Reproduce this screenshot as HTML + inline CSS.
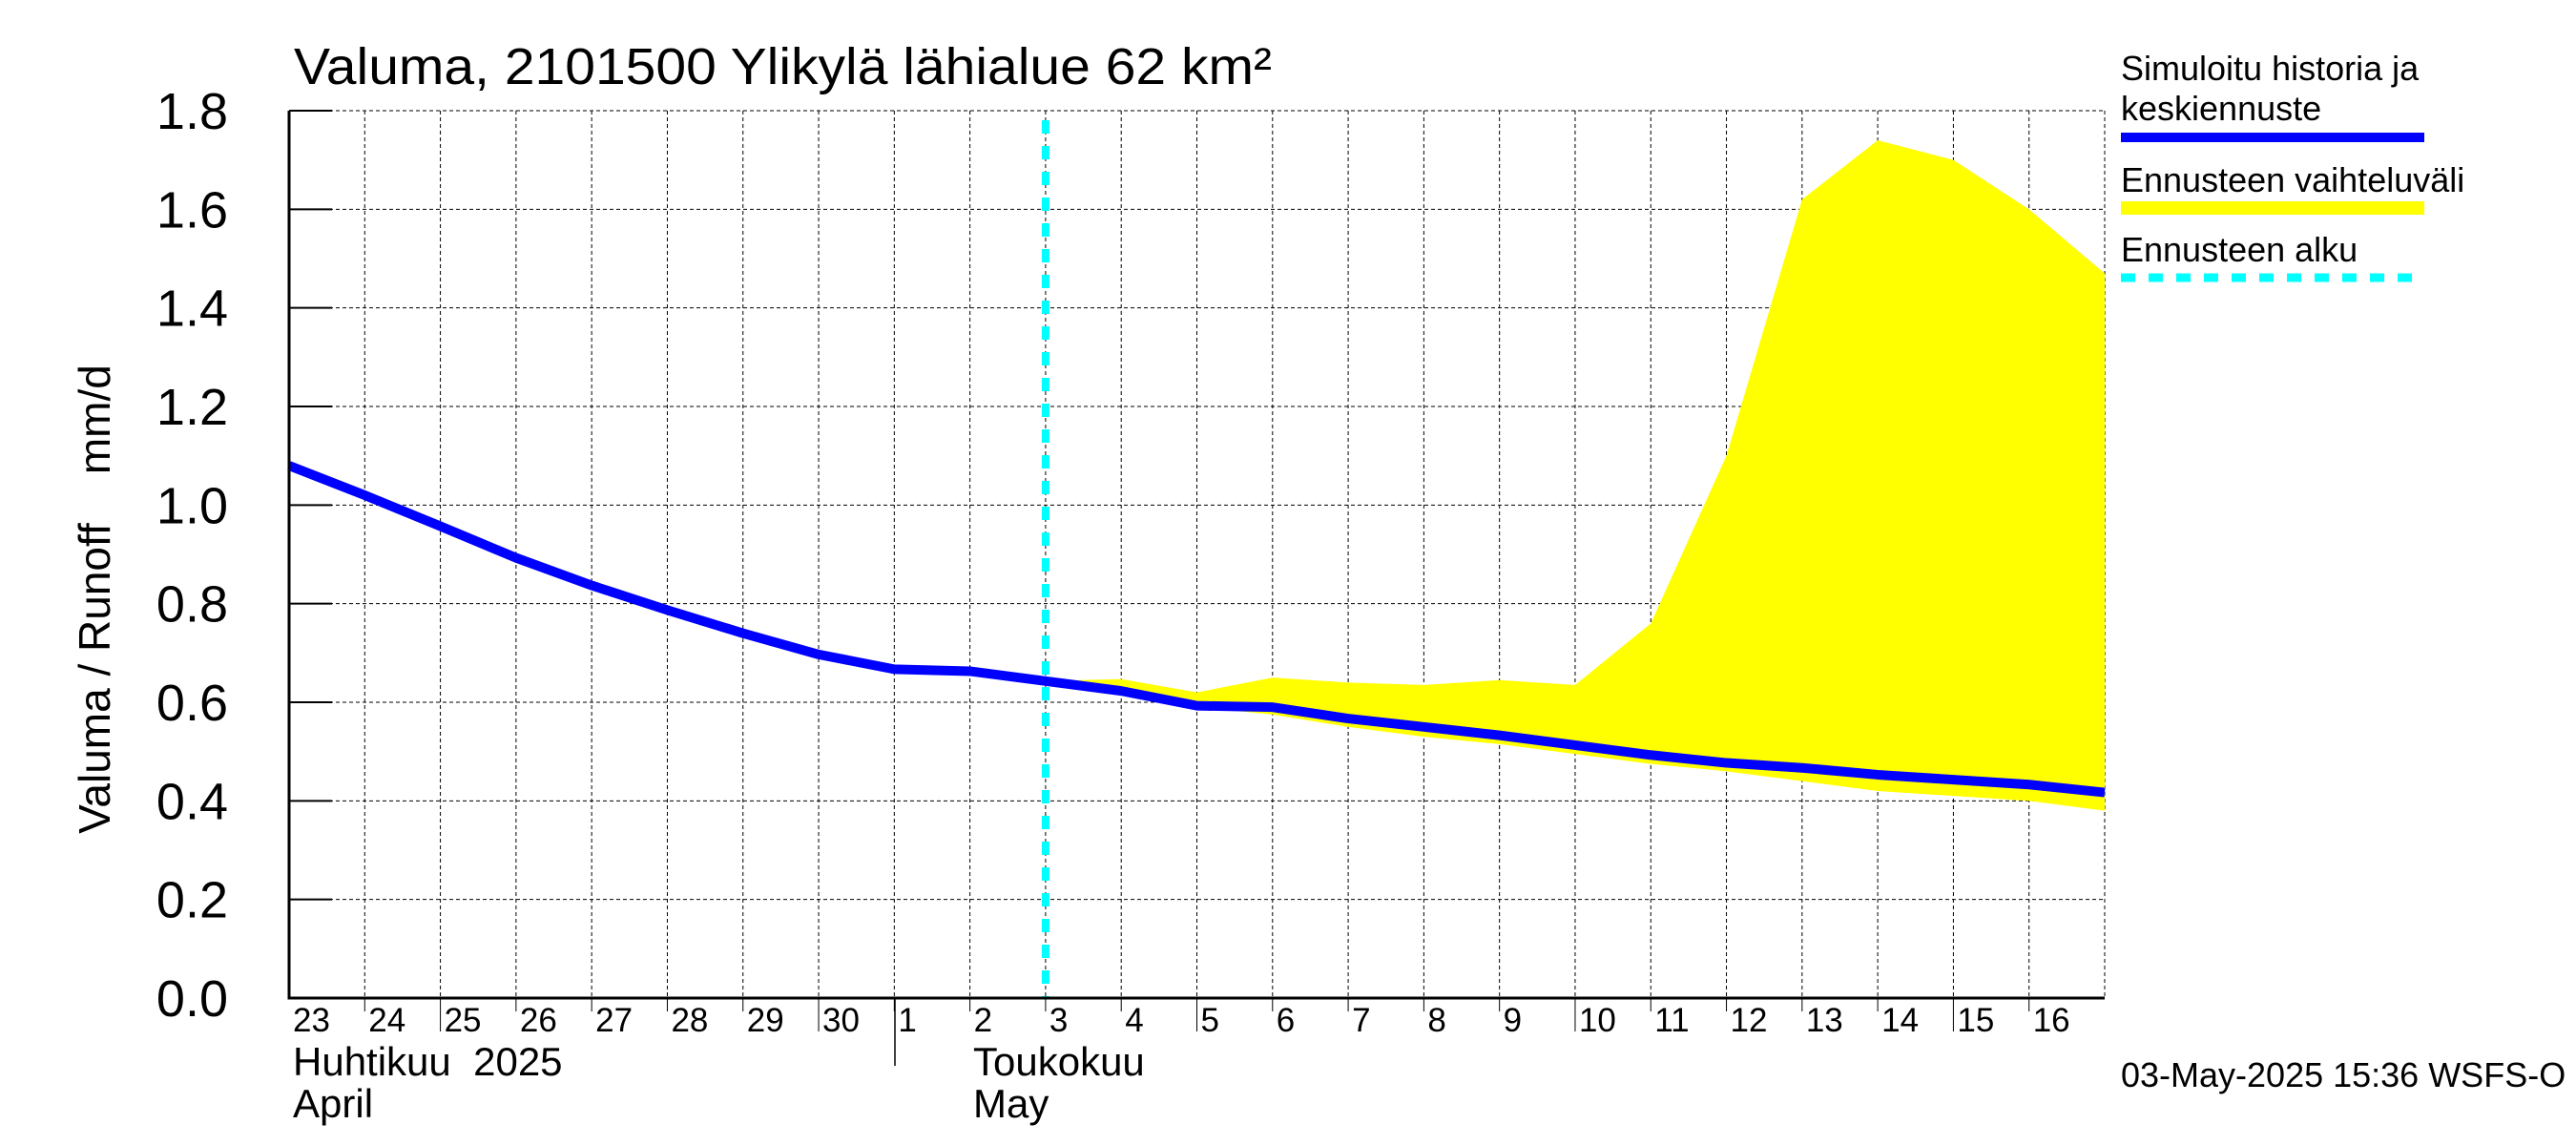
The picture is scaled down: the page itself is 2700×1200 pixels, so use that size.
<!DOCTYPE html>
<html><head><meta charset="utf-8"><style>
body{margin:0;background:#fff}
svg{display:block;font-family:"Liberation Sans",sans-serif}
</style></head><body>
<svg id="chart" width="2700" height="1200" viewBox="0 0 2700 1200" xmlns="http://www.w3.org/2000/svg">
<text x="308" y="88" font-size="54" textLength="1025" lengthAdjust="spacingAndGlyphs">Valuma, 2101500 Ylikylä lähialue 62 km²</text>
<g id="grid"></g>
<g id="band"></g>
<g id="lines"></g>
<g id="axes"></g>
<text transform="translate(115,628) rotate(-90)" text-anchor="middle" font-size="46" xml:space="preserve">Valuma / Runoff    mm/d</text>
<text x="307" y="1127" font-size="42" xml:space="preserve">Huhtikuu  2025</text>
<text x="307" y="1171" font-size="42">April</text>
<text x="1020" y="1127" font-size="42">Toukokuu</text>
<text x="1020" y="1171" font-size="42">May</text>
<line x1="938" y1="1046" x2="938" y2="1117" stroke="#000" stroke-width="1.5"/>
<g>
<text x="2223" y="84" font-size="36">Simuloitu historia ja</text>
<text x="2223" y="126" font-size="36">keskiennuste</text>
<rect x="2223" y="139" width="318" height="10" fill="#0000ff"/>
<text x="2223" y="201" font-size="36">Ennusteen vaihteluväli</text>
<rect x="2223" y="211" width="318" height="14" fill="#ffff00"/>
<text x="2223" y="274" font-size="36">Ennusteen alku</text>
<line x1="2223" y1="291" x2="2541" y2="291" stroke="#00ffff" stroke-width="9" stroke-dasharray="15,14"/>
</g>
<text x="2223" y="1139" font-size="36">03-May-2025 15:36 WSFS-O</text>
</svg>
<script>
const dayLabels=["23","24","25","26","27","28","29","30","1","2","3","4","5","6","7","8","9","10","11","12","13","14","15","16"];
const yTicks=[0,0.2,0.4,0.6,0.8,1.0,1.2,1.4,1.6,1.8];
const simValues=[1.08,1.02,0.957,0.893,0.837,0.787,0.74,0.697,0.667,0.663,0.643,0.623,0.593,0.59,0.567,0.55,0.533,0.513,0.493,0.477,0.467,0.453,0.443,0.433,0.417];
const bandStart=10;
const bandUpper=[0.643,0.647,0.62,0.65,0.64,0.635,0.645,0.635,0.76,1.10,1.62,1.74,1.70,1.60,1.47];
const bandLower=[0.643,0.62,0.59,0.575,0.55,0.53,0.515,0.495,0.475,0.46,0.44,0.42,0.41,0.40,0.38];
const forecastStartDay=10;

const L=303,R=2206,T=116,B=1046,nDays=24;
const X=d=>L+(R-L)*d/nDays;
const Y=v=>B-(B-T)*v/1.8;
const NS="http://www.w3.org/2000/svg";
function mk(parent,tag,attrs){const e=document.createElementNS(NS,tag);for(const k in attrs)e.setAttribute(k,attrs[k]);document.getElementById(parent).appendChild(e);return e;}

yTicks.forEach((v,i)=>{
  if(v>0){const g=mk('grid','line',{x1:L,x2:R,y1:Y(v),y2:Y(v),stroke:'#000','stroke-width':1,'stroke-dasharray':'4,3'});
  
  }
  const t=mk('axes','line',{x1:L,x2:L+45,y1:Y(v),y2:Y(v),stroke:'#000','stroke-width':2});
  
  
  const lb=mk('axes','text',{x:239,y:Y(v)+19,'font-size':54,'text-anchor':'end'});
  lb.textContent=v.toFixed(1);
  
  
});
dayLabels.forEach((s,i)=>{
  if(i>0){const g=mk('grid','line',{x1:X(i),x2:X(i),y1:T,y2:B,stroke:'#000','stroke-width':1,'stroke-dasharray':'4,3'});
  
  
  const tk=mk('axes','line',{x1:X(i),x2:X(i),y1:B,y2:B+(i%5==2?35:14),stroke:'#000','stroke-width':1});
  
  }
  const lb=mk('axes','text',{x:X(i)+4,y:1081,'font-size':35});
  lb.textContent=s;
  
  
});
{const g=mk('grid','line',{x1:L,x2:R,y1:T,y2:T,stroke:'#000','stroke-width':1,'stroke-dasharray':'4,3'});


const g2=mk('grid','line',{x1:R,x2:R,y1:T,y2:B,stroke:'#000','stroke-width':1,'stroke-dasharray':'4,3'});

}

let pts=bandUpper.map((v,i)=>X(bandStart+i)+','+Y(v));
pts=pts.concat(bandLower.map((v,i)=>X(bandStart+i)+','+Y(v)).reverse());
const band=mk('band','polygon',{points:pts.join(' '),fill:'#ffff00'});



const fl=mk('lines','line',{x1:X(forecastStartDay),x2:X(forecastStartDay),y1:T+10,y2:B,stroke:'#00ffff','stroke-width':8,'stroke-dasharray':'14,13'});


const sim=mk('lines','polyline',{points:simValues.map((v,i)=>X(i)+','+Y(v)).join(' '),fill:'none',stroke:'#0000ff','stroke-width':10,'stroke-linejoin':'round'});



const ax=mk('axes','polyline',{points:`${L},${T} ${L},${B} ${R},${B}`,fill:'none',stroke:'#000','stroke-width':3});


</script>
</body></html>
